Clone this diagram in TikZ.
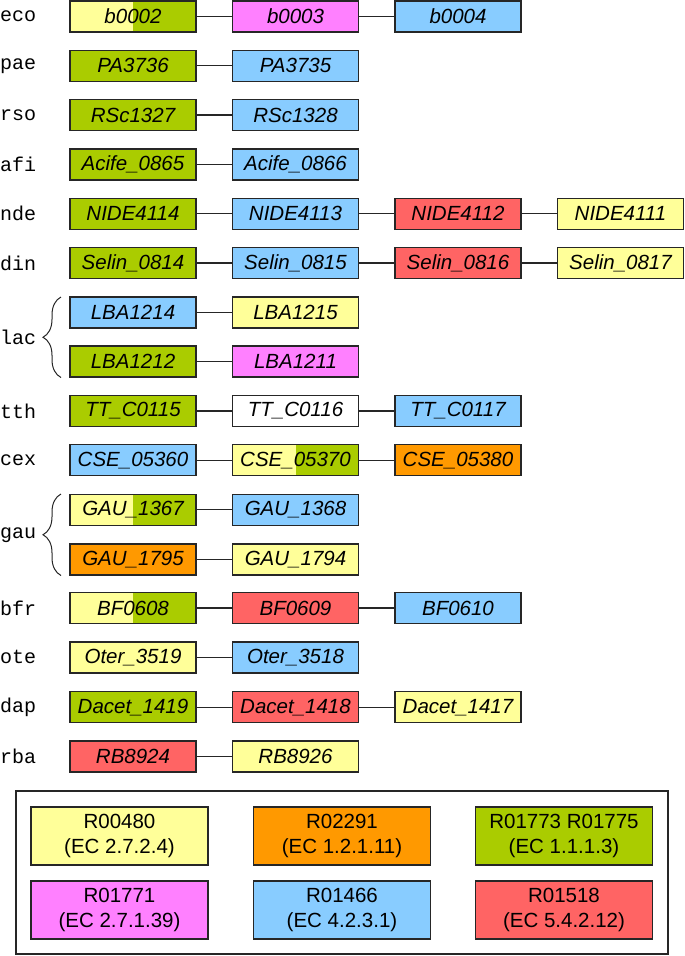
\documentclass[tikz,border=0pt]{standalone}
\usepackage{fontspec}
\setmainfont{Liberation Sans}
\newfontfamily\monof{Liberation Mono}
\usetikzlibrary{decorations.pathreplacing}
\definecolor{cyel}{HTML}{FFFF99}
\definecolor{cgrn}{HTML}{AACC00}
\definecolor{cpnk}{HTML}{FF80FF}
\definecolor{cblu}{HTML}{88CCFF}
\definecolor{cred}{HTML}{FF6464}
\definecolor{corg}{HTML}{FF9900}
\begin{document}
\begin{tikzpicture}[x=1pt,y=-1pt,
  gene/.style={draw=black!85, line width=1.4pt, minimum width=126pt, minimum height=31pt, inner sep=0pt,
    font=\fontsize{20.5}{24}\selectfont\itshape},
  yel/.style={gene, fill=cyel}, grn/.style={gene, fill=cgrn}, pnk/.style={gene, fill=cpnk},
  blu/.style={gene, fill=cblu}, red/.style={gene, fill=cred}, orn/.style={gene, fill=corg},
  wht/.style={gene, fill=white},
  split/.style={gene, path picture={
    \fill[cyel] (path picture bounding box.south west) rectangle (path picture bounding box.north);
    \fill[cgrn] (path picture bounding box.south) rectangle (path picture bounding box.north east);}},
  link/.style={line width=1.3pt, black!85},
  orgname/.style={anchor=west, inner sep=0pt, font=\monof\fontsize{20}{24}\selectfont},
  bracestyle/.style={line width=1pt, black!85, decorate, decoration={brace, amplitude=18pt, aspect=0.5}},
  legbox/.style={draw=black!85, line width=1.4pt, minimum width=177pt, minimum height=58pt, inner sep=0pt,
    align=center, font=\fontsize{20.5}{25}\selectfont},
]
\useasboundingbox (0,0) rectangle (685,956);
\def\ca{133}\def\cb{295.5}\def\cc{458}\def\cd{620.5}

% eco
\node[orgname] (leco) at (0,16.5) {eco};
\node[split] (eco1) at (\ca,16.5) {b0002};
\node[pnk] (eco2) at (\cb,16.5) {b0003};
\node[blu] (eco3) at (\cc,16.5) {b0004};
\draw[link] (eco1) -- (eco2); \draw[link] (eco2) -- (eco3);
% pae
\node[orgname] (lpae) at (0,65.8) {pae};
\node[grn] (pae1) at (\ca,65.8) {PA3736};
\node[blu] (pae2) at (\cb,65.8) {PA3735};
\draw[link] (pae1) -- (pae2);
% rso
\node[orgname] (lrso) at (0,115.1) {rso};
\node[grn] (rso1) at (\ca,115.1) {RSc1327};
\node[blu] (rso2) at (\cb,115.1) {RSc1328};
\draw[link] (rso1) -- (rso2);
% afi
\node[orgname] (lafi) at (0,164.4) {afi};
\node[grn] (afi1) at (\ca,164.4) {Acife\_0865};
\node[blu] (afi2) at (\cb,164.4) {Acife\_0866};
\draw[link] (afi1) -- (afi2);
% nde
\node[orgname] (lnde) at (0,213.7) {nde};
\node[grn] (nde1) at (\ca,213.7) {NIDE4114};
\node[blu] (nde2) at (\cb,213.7) {NIDE4113};
\node[red] (nde3) at (\cc,213.7) {NIDE4112};
\node[yel] (nde4) at (\cd,213.7) {NIDE4111};
\draw[link] (nde1) -- (nde2); \draw[link] (nde2) -- (nde3); \draw[link] (nde3) -- (nde4);
% din
\node[orgname] (ldin) at (0,263) {din};
\node[grn] (din1) at (\ca,263) {Selin\_0814};
\node[blu] (din2) at (\cb,263) {Selin\_0815};
\node[red] (din3) at (\cc,263) {Selin\_0816};
\node[yel] (din4) at (\cd,263) {Selin\_0817};
\draw[link] (din1) -- (din2); \draw[link] (din2) -- (din3); \draw[link] (din3) -- (din4);
% lac
\node[orgname] (llac) at (0,337) {lac};
\node[blu] (lac1) at (\ca,312.3) {LBA1214};
\node[yel] (lac2) at (\cb,312.3) {LBA1215};
\node[grn] (lac3) at (\ca,361.6) {LBA1212};
\node[pnk] (lac4) at (\cb,361.6) {LBA1211};
\draw[link] (lac1) -- (lac2); \draw[link] (lac3) -- (lac4);
\coordinate (lacbot) at (61,377.5);
\coordinate (lactop) at (61,297);
\draw[bracestyle] (lacbot) -- (lactop);
% tth
\node[orgname] (ltth) at (0,410.9) {tth};
\node[grn] (tth1) at (\ca,410.9) {TT\_C0115};
\node[wht] (tth2) at (\cb,410.9) {TT\_C0116};
\node[blu] (tth3) at (\cc,410.9) {TT\_C0117};
\draw[link] (tth1) -- (tth2); \draw[link] (tth2) -- (tth3);
% cex
\node[orgname] (lcex) at (0,460.2) {cex};
\node[blu] (cex1) at (\ca,460.2) {CSE\_05360};
\node[split] (cex2) at (\cb,460.2) {CSE\_05370};
\node[orn] (cex3) at (\cc,460.2) {CSE\_05380};
\draw[link] (cex1) -- (cex2); \draw[link] (cex2) -- (cex3);
% gau
\node[orgname] (lgau) at (0,535) {gau};
\node[split] (gau1) at (\ca,509.8) {GAU\_1367};
\node[blu] (gau2) at (\cb,509.8) {GAU\_1368};
\node[orn] (gau3) at (\ca,559.5) {GAU\_1795};
\node[yel] (gau4) at (\cb,559.5) {GAU\_1794};
\draw[link] (gau1) -- (gau2); \draw[link] (gau3) -- (gau4);
\coordinate (gaubot) at (61,575.5);
\coordinate (gautop) at (61,494);
\draw[bracestyle] (gaubot) -- (gautop);
% bfr
\node[orgname] (lbfr) at (0,608.1) {bfr};
\node[split] (bfr1) at (\ca,608.1) {BF0608};
\node[red] (bfr2) at (\cb,608.1) {BF0609};
\node[blu] (bfr3) at (\cc,608.1) {BF0610};
\draw[link] (bfr1) -- (bfr2); \draw[link] (bfr2) -- (bfr3);
% ote
\node[orgname] (lote) at (0,657.4) {ote};
\node[yel] (ote1) at (\ca,657.4) {Oter\_3519};
\node[blu] (ote2) at (\cb,657.4) {Oter\_3518};
\draw[link] (ote1) -- (ote2);
% dap
\node[orgname] (ldap) at (0,707.2) {dap};
\node[grn] (dap1) at (\ca,707.2) {Dacet\_1419};
\node[red] (dap2) at (\cb,707.2) {Dacet\_1418};
\node[yel] (dap3) at (\cc,707.2) {Dacet\_1417};
\draw[link] (dap1) -- (dap2); \draw[link] (dap2) -- (dap3);
% rba
\node[orgname] (lrba) at (0,756.5) {rba};
\node[red] (rba1) at (\ca,756.5) {RB8924};
\node[yel] (rba2) at (\cb,756.5) {RB8926};
\draw[link] (rba1) -- (rba2);

% legend
\node[draw=black!85, line width=1.2pt, minimum width=652pt, minimum height=163pt, inner sep=0pt] (legend) at (342,872.5) {};
\node[legbox, fill=cyel] (k1) at (119.5,836) {R00480\\(EC 2.7.2.4)};
\node[legbox, fill=corg] (k2) at (342,836) {R02291\\(EC 1.2.1.11)};
\node[legbox, fill=cgrn] (k3) at (564,836) {R01773 R01775\\(EC 1.1.1.3)};
\node[legbox, fill=cpnk] (k4) at (119.5,910) {R01771\\(EC 2.7.1.39)};
\node[legbox, fill=cblu] (k5) at (342,910) {R01466\\(EC 4.2.3.1)};
\node[legbox, fill=cred] (k6) at (564,910) {R01518\\(EC 5.4.2.12)};
\end{tikzpicture}
\end{document}
